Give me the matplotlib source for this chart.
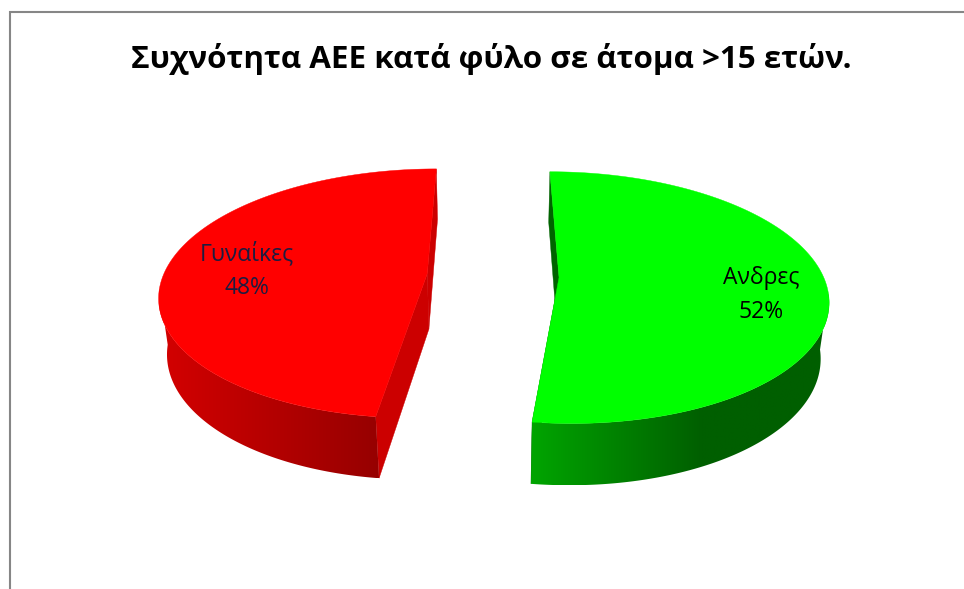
import numpy as np
import matplotlib
matplotlib.use("Agg")
import matplotlib.pyplot as plt
from matplotlib.patches import Polygon

# share of cases per sex, drawn clockwise from the top
labels = ["Ανδρες", "Γυναίκες"]
shares = [52, 48]
top_colors = ["#00ff00", "#ff0000"]
cut_colors = ["#006400", "#cc0000"]
# rim shade from the left end of each slice towards the right
rim_stops = [[0.0, 0.57, 1.0], [0.0, 1.0]]
rim_rgb = [[(0, 165, 0), (0, 95, 0), (0, 95, 0)],
           [(212, 0, 0), (150, 0, 0)]]
label_pos = [(761, 278), (247, 254)]
label_colors = ["#000000", "#1c1c40"]
title = "Συχνότητα ΑΕΕ κατά φύλο σε άτομα >15 ετών."

plt.rcParams['font.family'] = ['Open Sans', 'DejaVu Sans']

# pie projection
cx, cy = 493, 275.5
radius, squash = 264, 122
depth = 57
persp, persp_z = 0.16, 0.025
explode = 0.25


def project(u, v, z):
    w = 1 + persp * v + persp_z * z
    return cx + radius * u / w, cy - (squash * v - depth * z) / w


def pie_slice(ax, start, end, top, cut, stops, rgbs):
    mid = np.radians((start + end) / 2)
    ou, ov = explode * np.sin(mid), explode * np.cos(mid)
    theta = np.radians(np.linspace(start, end, 361))
    u = ou + np.sin(theta)
    v = ov + np.cos(theta)

    # flat faces of the cut, then the rim, then the top
    for i in [0, -1]:
        pts = [project(ou, ov, 0), project(u[i], v[i], 0),
               project(u[i], v[i], 1), project(ou, ov, 1)]
        ax.add_patch(Polygon(pts, closed=True, fc=cut, ec=cut, lw=0.3, zorder=1))

    xt, yt = project(u, v, 0)
    xb, yb = project(u, v, 1)

    # rim is a horizontal gradient clipped to the band between top and bottom edge
    front = np.cos(theta) < -0.12
    band = list(zip(xt[front], yt[front])) + list(zip(xb[front][::-1], yb[front][::-1]))
    clip = Polygon(band, closed=True, fc='none', ec='none', transform=ax.transData)
    ax.add_patch(clip)
    x0, x1 = min(xt[front].min(), xb[front].min()), max(xt[front].max(), xb[front].max())
    t = np.linspace(0, 1, 400)
    rgbs = np.array(rgbs) / 255
    grad = np.stack([np.interp(t, stops, rgbs[:, k]) for k in range(3)], axis=1)[np.newaxis, :, :]
    y0, y1 = min(yt[front].min(), yb[front].min()), max(yt[front].max(), yb[front].max())
    im = ax.imshow(grad, extent=[x0, x1, y1, y0], aspect='auto', interpolation='bilinear', zorder=2)
    im.set_clip_path(clip)

    ax0, ay0 = project(ou, ov, 0)
    outline = [(ax0, ay0)] + list(zip(xt, yt))
    ax.add_patch(Polygon(outline, closed=True, fc=top, ec=top, lw=0.3, zorder=3))


fig = plt.figure(figsize=(9.64, 5.89), dpi=100)
ax = fig.add_axes([0, 0, 1, 1])
ax.axis('off')

# chart frame, cut off at the right and at the bottom
ax.plot([9.5, 9.5, 964], [589, 12, 12], color="#868686", lw=1.5, solid_joinstyle='miter')

total = sum(shares)
angle = 0
for i in range(len(shares)):
    sweep = 360 * shares[i] / total
    pie_slice(ax, angle, angle + sweep, top_colors[i], cut_colors[i], rim_stops[i], rim_rgb[i])
    angle += sweep

ax.set_xlim(0, 964)
ax.set_ylim(589, 0)

for i in range(len(labels)):
    ax.text(label_pos[i][0], label_pos[i][1], labels[i], color=label_colors[i],
            fontsize=16.5, ha='center', va='center', zorder=5)
    ax.text(label_pos[i][0], label_pos[i][1] + 34, str(shares[i]) + "%", color=label_colors[i],
            fontsize=16.5, ha='center', va='center', zorder=5)

ax.text(491.5, 68, title, fontsize=22.6, fontweight='bold', color="black", ha='center', va='baseline')

fig.savefig("out.png", dpi=100)
